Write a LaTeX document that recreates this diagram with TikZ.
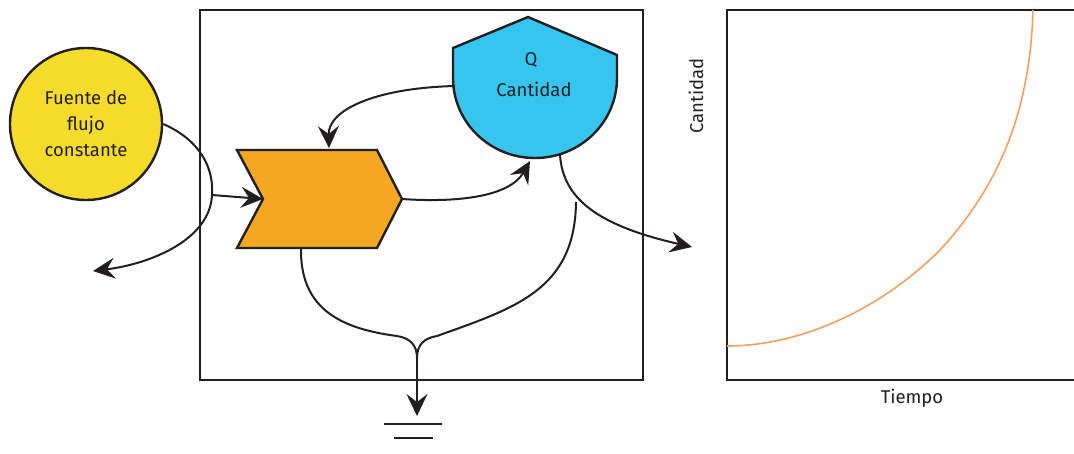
\documentclass[tikz,border=0pt]{standalone}
\usepackage{fontspec}
\setmainfont{Fira Sans}
\usetikzlibrary{arrows.meta}
\definecolor{cyel}{RGB}{245,220,42}
\definecolor{corg}{RGB}{244,168,34}
\definecolor{cblu}{RGB}{54,197,238}
\definecolor{ccur}{RGB}{246,160,95}
\definecolor{cink}{RGB}{35,31,32}
\tikzset{
  line/.style={draw=cink, line width=2.4pt},
  conn/.style={draw=cink, line width=2pt},
  arr/.style={conn, -{Stealth[length=22pt,width=21pt,inset=8pt]}},
  lbl/.style={font=\fontsize{18.5}{24}\selectfont, text=cink, align=center}
}
\begin{document}
\begin{tikzpicture}[x=1pt,y=-1pt]
\useasboundingbox (0,0) rectangle (1074,453);
% main box
\draw[line] (200,10) rectangle (643,380);
% graph box
\draw[line] (1074,10) -- (727,10) -- (727,380) -- (1074,380);
% source circle
\node[circle, draw=cink, line width=2.4pt, fill=cyel, minimum size=152pt, inner sep=0pt, lbl] (src) at (86,124) {Fuente de\\[2pt]flujo\\[2pt]constante};
% chevron
\draw[line, fill=corg] (237,150) -- (377,150) -- (402,199) -- (377,248) -- (237,248) -- (263,199) -- cycle;
\coordinate (chtip) at (402,199);
\coordinate (chnotch) at (263,199);
\coordinate (chtop) at (329,148);
\coordinate (chbot) at (301,248);
% blue stock shape
\draw[line, fill=cblu] (453,48) -- (528,17) -- (617,55) -- (617,78)
  arc[start angle=0, end angle=180, x radius=82, y radius=80] -- cycle;
\node[lbl] (q) at (531,60) {Q};
\node[lbl] (qc) at (534,89) {Cantidad};
\coordinate (qleft) at (455,86);
\coordinate (qbot) at (530,161);
\coordinate (qout) at (560,155);
% connectors
\coordinate (split) at (212,195);
\coordinate (sink) at (93,271);
\draw[arr] (src.east) .. controls (200,140) and (214,168) .. (split) .. controls (210,240) and (150,264) .. (sink);
\draw[arr] (split) -- (chnotch);
\draw[arr] (qleft) .. controls (375,88) and (328,110) .. (chtop);
\draw[arr] (chtip) .. controls (460,203) and (510,196) .. (qbot);
\coordinate (outtip) at (692,247);
\draw[arr] (qout) .. controls (563,200) and (600,226) .. (outtip);
\coordinate (branch) at (576,202);
\coordinate (join) at (417,358);
\coordinate (ground) at (417,416);
\draw[conn] (chbot) .. controls (300,305) and (335,328) .. (397,336) .. controls (410,338) and (417,345) .. (join);
\draw[conn] (branch) .. controls (575,290) and (515,308) .. (437,336) .. controls (424,338) and (417,345) .. (join);
\draw[arr] (join) -- (ground);
\draw[conn] (384,424) -- (442,424);
\draw[conn] (394,438) -- (433,438);
% graph curve
\draw[draw=ccur, line width=1.6pt] (727,346) .. controls (800,346) and (880,310) .. (940,250) .. controls (1000,185) and (1030,110) .. (1033,10);
\node[lbl, rotate=90] (ylab) at (696,96) {Cantidad};
\node[lbl] (xlab) at (912,398) {Tiempo};
\end{tikzpicture}
\end{document}
